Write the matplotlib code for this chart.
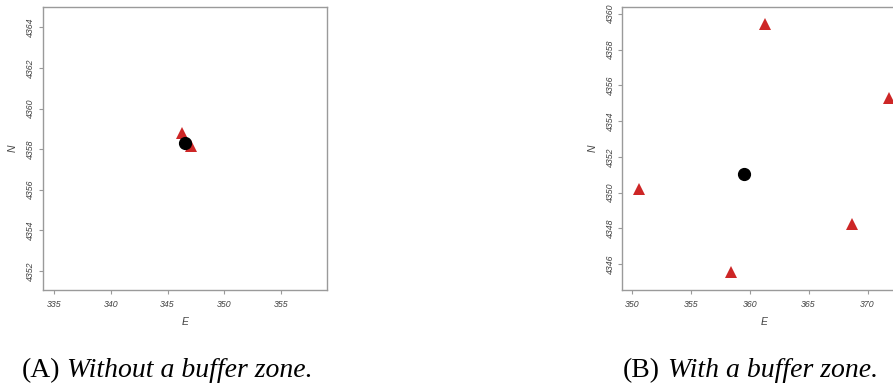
import matplotlib.pyplot as plt

# station coordinates (km), two layouts
east_a = [346.3, 347.05]
north_a = [4358.8, 4358.17]
centre_a = (346.53, 4358.32)

east_b = [350.62, 361.3, 371.8, 368.7, 358.43]
north_b = [4350.2, 4359.42, 4355.3, 4348.22, 4345.54]
centre_b = (359.5, 4351.05)

xticks_a = [335, 340, 345, 350, 355]
yticks_a = [4352, 4354, 4356, 4358, 4360, 4362, 4364]
xticks_b = [350, 355, 360, 365, 370]
yticks_b = [4346, 4348, 4350, 4352, 4354, 4356, 4358, 4360]

captions = ["Without a buffer zone.", "With a buffer zone."]
letters = ["(A)", "(B)"]

red = "#cd2626"
grey = "#9a9a9a"
tick_font = dict(family="Liberation Sans", style="italic", size=6.3, color="#444444")


def station_plot(ax, east, north, centre, xticks, yticks, xlim, ylim):
    ax.plot(east, north, "^", color=red, markersize=8, markeredgewidth=0)
    ax.plot(*centre, "o", color="black", markersize=8.5)
    ax.set_xlim(xlim)
    ax.set_ylim(ylim)
    ax.set_xticks(xticks)
    ax.set_yticks(yticks)
    ax.set_xticklabels([str(t) for t in xticks], **tick_font)
    ax.set_yticklabels([str(t) for t in yticks], rotation=90, va="center", **tick_font)
    ax.tick_params(axis="x", length=3, width=0.8, color=grey, pad=4)
    ax.tick_params(axis="y", length=3, width=0.8, color=grey, pad=2.5)
    for s in ax.spines.values():
        s.set_color(grey)
        s.set_linewidth(1.0)
    ax.set_xlabel("E", family="Liberation Sans", style="italic", size=7.5, color="#444444", labelpad=6)
    ax.set_ylabel("N", family="Liberation Sans", style="italic", size=7.5, color="#444444", labelpad=6)


fig = plt.figure(figsize=(8.93, 3.87), dpi=100)
ax1 = fig.add_axes([0.048, 0.2506, 0.318, 0.731])
ax2 = fig.add_axes([0.697, 0.2506, 0.318, 0.731])

station_plot(ax1, east_a, north_a, centre_a, xticks_a, yticks_a, (334.0, 359.06), (4351.05, 4365.0))
station_plot(ax2, east_b, north_b, centre_b, xticks_b, yticks_b, (349.2, 373.3), (4344.55, 4360.37))

# subfigure captions
cap_font = dict(family="Liberation Serif", size=20, color="black")
fig.text(0.0246, 0.026, letters[0], **cap_font)
fig.text(0.075, 0.026, captions[0], style="italic", **cap_font)
fig.text(0.697, 0.026, letters[1], **cap_font)
fig.text(0.748, 0.026, captions[1], style="italic", **cap_font)

fig.savefig("out.png", dpi=100)
